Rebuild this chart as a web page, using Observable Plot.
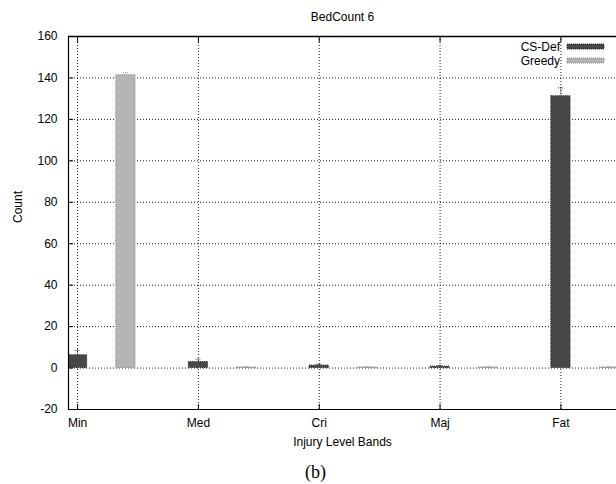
<!DOCTYPE html>
<html>
<head>
<meta charset="utf-8">
<script src="https://cdn.jsdelivr.net/npm/d3@7"></script>
<script src="https://cdn.jsdelivr.net/npm/@observablehq/plot@0.6"></script>
<style>
  html, body { margin: 0; padding: 0; background: white; }
</style>
</head>
<body>
<div id="chart"></div>
<script>
const categories = ["Min", "Med", "Cri", "Maj", "Fat"];
const seriesNames = ["CS-Def", "Greedy"];
const csDef = [6.2, 2.9, 1.2, 0.7, 131.2];
const greedy = [141.3, 0.3, 0.3, 0.3, 0.3];
const csDefErr = [2.4, 1.4, 0.6, 0.5, 4.0];
const greedyErr = [1.2, 0.2, 0.2, 0.2, 0.2];
const yTicks = [-20, 0, 20, 40, 60, 80, 100, 120, 140, 160];
const xTicks = [0, 1, 2, 3, 4];

const seriesStyle = {
  "CS-Def": { offset: 0, fill: "#474747", stroke: "#262626" },
  "Greedy": { offset: 0.4, fill: "#b4b4b4", stroke: "#8a8a8a" }
};
const halfWidth = 0.08;

const rows = [];
categories.forEach((c, i) => {
  rows.push({ cat: c, i, series: "CS-Def", value: csDef[i], err: csDefErr[i] });
  rows.push({ cat: c, i, series: "Greedy", value: greedy[i], err: greedyErr[i] });
});
const xc = d => d.i + seriesStyle[d.series].offset;

const xDomain = [-0.075, 4.46];
const yDomain = [-20, 160];

function legend(index, scales, values, dims) {
  const g = d3.create("svg:g");
  const right = dims.width - 56;
  seriesNames.forEach((s, k) => {
    const cy = 47 + 14 * k;
    g.append("text")
      .attr("x", right).attr("y", cy)
      .attr("text-anchor", "end").attr("dominant-baseline", "central")
      .attr("font-size", 12).attr("fill", "black")
      .text(s);
    g.append("rect")
      .attr("x", right + 7).attr("y", cy - 3)
      .attr("width", 37).attr("height", 5)
      .attr("fill", seriesStyle[s].fill)
      .attr("stroke", seriesStyle[s].stroke)
      .attr("stroke-dasharray", "1,1");
  });
  return g.node();
}

const chart = Plot.plot({
  width: 616,
  height: 484,
  marginLeft: 68,
  marginRight: 0,
  marginTop: 36,
  marginBottom: 75,
  x: { type: "linear", domain: xDomain },
  y: { domain: yDomain },
  style: { fontFamily: "'Liberation Sans', Arial, sans-serif", fontSize: "12px", background: "white", color: "black" },
  marks: [
    Plot.gridY(yTicks, { stroke: "black", strokeOpacity: 0.9, strokeDasharray: "1,2" }),
    Plot.gridX(xTicks, { stroke: "black", strokeOpacity: 0.9, strokeDasharray: "1,2" }),
    Plot.rectY(rows, {
      x1: d => xc(d) - halfWidth,
      x2: d => xc(d) + halfWidth,
      y1: 0,
      y2: "value",
      fill: d => seriesStyle[d.series].fill,
      stroke: d => seriesStyle[d.series].stroke,
      strokeDasharray: "1,1",
      clip: true
    }),
    Plot.ruleX(rows, {
      x: xc, y1: "value", y2: d => d.value + d.err,
      stroke: d => seriesStyle[d.series].stroke, strokeDasharray: "1,1", clip: true
    }),
    Plot.ruleY(rows, {
      x1: d => xc(d) - 0.02, x2: d => xc(d) + 0.02, y: d => d.value + d.err,
      stroke: d => seriesStyle[d.series].stroke, strokeDasharray: "1,1", clip: true
    }),
    Plot.axisY(yTicks, { tickSize: 0, tickPadding: 11, tickFormat: d => String(d), label: null, fontSize: 12 }),
    Plot.axisY(yTicks, { tickSize: 5, dx: 5, text: null, label: null }),
    Plot.axisX(xTicks, { tickSize: 0, tickPadding: 9, tickFormat: i => categories[i], label: null, fontSize: 12 }),
    Plot.axisX(xTicks, { anchor: "bottom", tickSize: 5, dy: -5, text: null, label: null }),
    Plot.axisX(xTicks, { anchor: "top", tickSize: 5, dy: 5, text: null, label: null }),
    Plot.ruleX([xDomain[0]], { stroke: "black", strokeWidth: 1.2 }),
    Plot.ruleY([yDomain[0]], { stroke: "black", strokeWidth: 1.2 }),
    Plot.ruleY([yDomain[1]], { stroke: "black", strokeWidth: 1.5 }),
    Plot.text(["BedCount 6"], { frameAnchor: "top", dy: -19, fontSize: 12, lineAnchor: "middle" }),
    Plot.text(["Injury Level Bands"], { frameAnchor: "bottom", dy: 33, fontSize: 12, lineAnchor: "middle" }),
    Plot.text(["Count"], { frameAnchor: "left", dx: -50, rotate: -90, fontSize: 12, lineAnchor: "middle" }),
    Plot.text(["(b)"], { frameAnchor: "bottom", dx: -27, dy: 63, fontSize: 18, lineAnchor: "middle", fontFamily: "'Liberation Serif', 'Times New Roman', serif" }),
    legend
  ]
});
document.getElementById("chart").appendChild(chart);
</script>
</body>
</html>
